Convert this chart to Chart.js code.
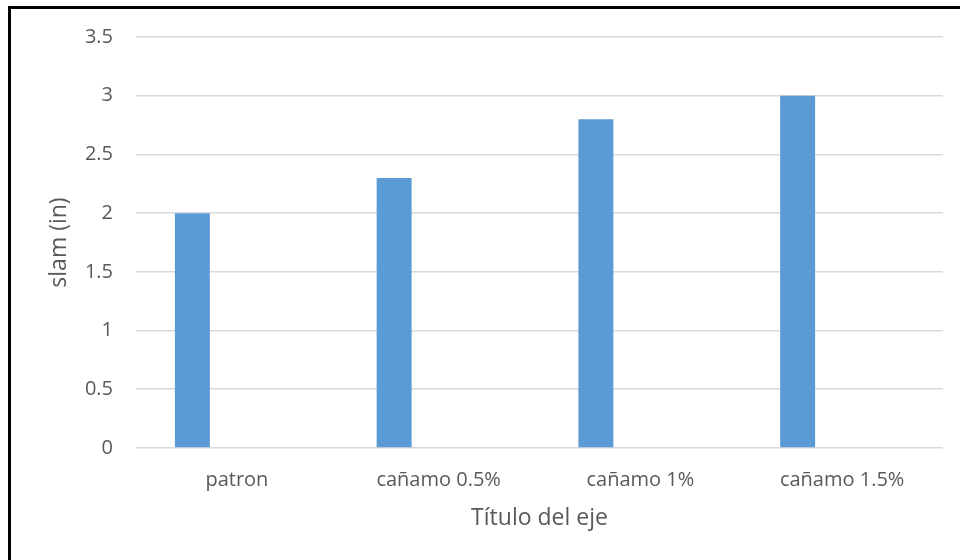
<!DOCTYPE html>
<html>
<head>
<meta charset="utf-8">
<script src="https://cdn.jsdelivr.net/npm/chart.js@4"></script>
<style>
  html, body { margin: 0; padding: 0; background: #fff; overflow: hidden; }
  #wrap { position: relative; width: 960px; height: 560px; }
  #marco { position: absolute; left: 8px; top: 6px; width: 1000px; height: 600px;
           border-left: 3px solid #000; border-top: 3px solid #000; pointer-events: none; }
</style>
</head>
<body>
<div id="wrap">
  <canvas id="barChart" width="960" height="560"></canvas>
  <div id="marco"></div>
</div>
<script>
// datos del grafico
var categorias = ["patron", "cañamo 0.5%", "cañamo 1%", "cañamo 1.5%"];
var slam = [2.0, 2.3, 2.8, 3.0];
var serie2 = [null, null, null, null]; // serie vacia de la hoja
var ticksY = [0, 0.5, 1, 1.5, 2, 2.5, 3, 3.5];

Chart.defaults.font.family = "'Open Sans', sans-serif";
Chart.defaults.color = '#595959';

var ctx = document.getElementById('barChart');
var myBarChart = new Chart(ctx, {
    type: 'bar',
    data: {
        labels: categorias,
        datasets: [{
            label: "slam (in)",
            data: slam,
            backgroundColor: '#5b9bd5',
            borderWidth: 0
        }, {
            label: "Serie 2",
            data: serie2,
            backgroundColor: '#ed7d31',
            borderWidth: 0
        }]
    },
    options: {
        responsive: false,
        animation: false,
        layout: { padding: { top: 37, right: 17, left: 12, bottom: 0 } },
        plugins: {
            legend: { display: false },
            tooltip: { enabled: false }
        },
        datasets: {
            bar: { categoryPercentage: 0.882, barPercentage: 0.393 }
        },
        scales: {
            x: {
                grid: { display: false },
                border: { display: false },
                ticks: { font: { size: 20 }, padding: 12, maxRotation: 0 },
                title: { display: true, text: 'Título del eje', font: { size: 23 }, padding: { top: 0, bottom: 28 } },
                afterFit: function (scale) { scale.height = 112; }
            },
            y: {
                min: 0,
                max: 3.5,
                afterBuildTicks: function (scale) {
                    scale.ticks = ticksY.map(function (v) { return { value: v }; });
                },
                grid: { color: '#d9d9d9', lineWidth: 1.6, drawTicks: false },
                border: { display: false },
                ticks: {
                    font: { size: 20 },
                    padding: 23,
                    callback: function (v) { return String(v); }
                },
                title: { display: true, text: 'slam (in)', font: { size: 23 }, padding: { top: 34, bottom: 0 } },
                afterFit: function (scale) { scale.width = 124; }
            }
        }
    }
});
</script>
</body>
</html>
